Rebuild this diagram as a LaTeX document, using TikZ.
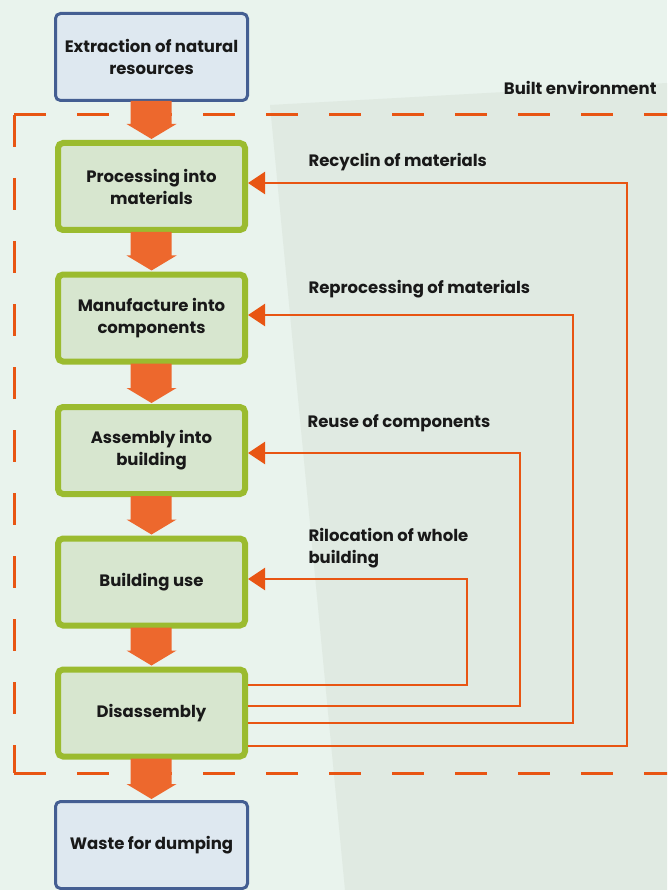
\documentclass[tikz,border=0pt]{standalone}
\usepackage{fontspec}
\setmainfont{Poppins}
\usetikzlibrary{arrows.meta,calc}
\definecolor{bglight}{RGB}{233,243,237}
\definecolor{bgdark}{RGB}{224,234,226}
\definecolor{gfill}{RGB}{215,230,207}
\definecolor{gline}{RGB}{155,187,47}
\definecolor{bline}{RGB}{68,94,146}
\definecolor{bfill}{RGB}{222,232,240}
\definecolor{oarrow}{RGB}{237,104,45}
\definecolor{oline}{RGB}{232,85,19}
\tikzset{
  txt/.style={font=\fontsize{16.5}{22}\selectfont\bfseries, text=black!90},
  gbox/.style={txt, draw=gline, fill=gfill, line width=6pt, rounded corners=5pt,
    minimum width=187pt, minimum height=87pt, align=center, inner sep=0pt},
  bbox/.style={txt, draw=bline, fill=bfill, line width=3pt, rounded corners=5pt,
    minimum width=192pt, minimum height=87pt, align=center, inner sep=0pt},
  fb/.style={draw=oline, line width=2.5pt, -{Triangle[length=17pt,width=22pt]}},
  fblabel/.style={txt, anchor=base west, align=left},
  envline/.style={draw=oline, line width=3pt, dash pattern=on 32pt off 31pt},
  blockarr/.style={fill=oarrow}
}
\newcommand{\blockarrow}[2]{%
  \fill[blockarr] ($(#1.south)+(-21,-1)$) -- ($(#1.south)+(20,-1)$) --
    ($(#2.north)+(20,-16)$) -- ($(#2.north)+(25,-16)$) -- ($(#2.north)+(0,-1)$) --
    ($(#2.north)+(-25,-16)$) -- ($(#2.north)+(-21,-16)$) -- cycle;}
\begin{document}
\begin{tikzpicture}[x=1pt,y=-1pt]
\useasboundingbox (0,0) rectangle (667,890);
\clip (0,0) rectangle (667,890);
\fill[bglight] (0,0) rectangle (667,890);
\fill[bgdark] (270,105) -- (667,83) -- (667,890) -- (345,890) -- cycle;

\draw[envline] (14,115) -- (14,773);
\draw[envline] (14,115) -- (700,115);
\draw[envline] (14,773) -- (700,773);
\node[txt, anchor=base east] (env) at (660,95) {Built environment};

\node[bbox] (ext) at (151.5,57) {Extraction of natural\\resources};
\node[gbox] (proc) at (151.5,186.5) {Processing into\\materials};
\node[gbox] (man) at (151.5,318) {Manufacture into\\components};
\node[gbox] (ass) at (151.5,450.5) {Assembly into\\building};
\node[gbox] (use) at (151.5,582) {Building use};
\node[gbox] (dis) at (151.5,713) {Disassembly};
\node[bbox] (waste) at (151.5,845) {Waste for dumping};

\blockarrow{ext}{proc}
\blockarrow{proc}{man}
\blockarrow{man}{ass}
\blockarrow{ass}{use}
\blockarrow{use}{dis}
\blockarrow{dis}{waste}

\coordinate (c1) at (627,183);
\coordinate (c2) at (573,315);
\coordinate (c3) at (520,453);
\coordinate (c4) at (467,579);
\draw[fb] ($(dis.east)+(0,33)$) -| (c1) -- (proc.east |- c1);
\draw[fb] ($(dis.east)+(0,10)$) -| (c2) -- (man.east |- c2);
\draw[fb] ($(dis.east)+(0,-7)$) -| (c3) -- (ass.east |- c3);
\draw[fb] ($(dis.east)+(0,-28)$) -| (c4) -- (use.east |- c4);

\node[fblabel] (l1) at (305,167) {Recyclin of materials};
\node[fblabel] (l2) at (305,293) {Reprocessing of materials};
\node[fblabel] (l3) at (304,427) {Reuse of components};
\node[fblabel] (l4) at (305,563) {Rilocation of whole\\building};
\end{tikzpicture}
\end{document}
